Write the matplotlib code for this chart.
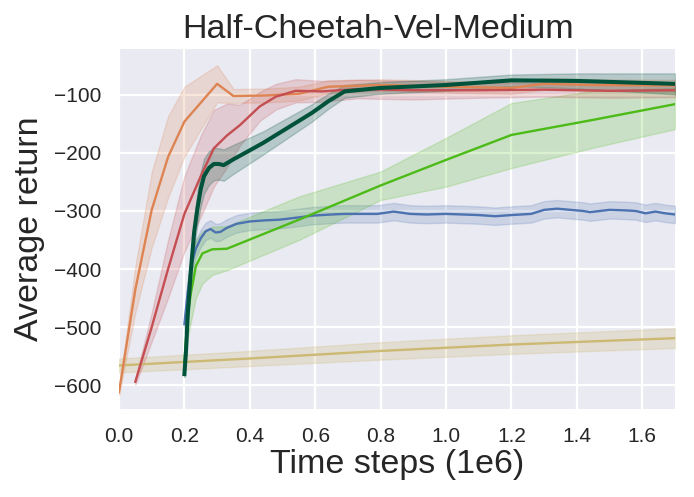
import numpy as np
import matplotlib
matplotlib.use("Agg")
import matplotlib.pyplot as plt

plt.rcParams['font.family'] = ['Liberation Sans', 'DejaVu Sans']

# ---- data (x in 1e6 time steps) ----
orange_x = [0.0, 0.05, 0.1, 0.15, 0.2, 0.3, 0.35, 0.45, 0.55, 0.64, 0.8, 1.0, 1.2, 1.3, 1.45, 1.7]
orange_y = [-612, -435, -298, -207, -146, -81, -102, -101, -98, -86, -83, -86, -88, -81, -83, -84]
orange_sd = [5, 40, 65, 70, 60, 32, 12, 12, 12, 11, 10, 10, 10, 10, 10, 10]

red_x = [0.05, 0.1, 0.15, 0.2, 0.25, 0.29, 0.33, 0.37, 0.43, 0.48, 0.54, 0.62, 0.73, 0.9, 1.1, 1.3, 1.5, 1.7]
red_y = [-594, -500, -400, -305, -240, -192, -170, -152, -120, -103, -93, -94, -90, -92, -92, -91, -93, -92]
red_sd = [5, 25, 50, 65, 70, 66, 55, 35, 25, 22, 20, 18, 16, 16, 13, 12, 12, 12]

dg_x = [0.2, 0.205, 0.21, 0.22, 0.23, 0.24, 0.25, 0.26, 0.275, 0.29, 0.305, 0.32, 0.35, 0.44, 0.59, 0.64,
        0.69, 0.8, 1.0, 1.2, 1.4, 1.7]
dg_y = [-581, -540, -480, -400, -335, -295, -262, -240, -226, -219, -219, -221, -211, -183, -131, -111,
        -94, -88, -83, -75, -76, -81]
dg_sd = [5, 10, 15, 20, 25, 28, 30, 30, 29, 28, 27, 27, 25, 20, 15, 13, 11, 10, 10, 10, 13, 18]

blue_x = [0.2, 0.21, 0.22, 0.235, 0.25, 0.265, 0.28, 0.295, 0.31, 0.33, 0.36, 0.4, 0.45, 0.49, 0.55, 0.59,
          0.65, 0.69, 0.75, 0.79, 0.84, 0.89, 0.94, 1.0, 1.05, 1.1, 1.15, 1.2, 1.26, 1.3, 1.34, 1.38,
          1.42, 1.44, 1.47, 1.5, 1.55, 1.58, 1.61, 1.64, 1.67, 1.7]
blue_y = [-495, -440, -395, -365, -347, -335, -331, -337, -336, -329, -322, -318, -316, -315, -311, -308,
          -306, -305, -305, -305, -301, -305, -306, -305, -306, -307, -309, -307, -305, -298, -296, -298,
          -300, -302, -300, -298, -299, -300, -304, -301, -304, -306]
blue_sd = 15

green_x = [0.2, 0.21, 0.22, 0.235, 0.255, 0.285, 0.33, 0.55, 0.8, 1.0, 1.2, 1.45, 1.7]
green_y = [-560, -480, -441, -395, -373, -366, -365, -315, -256, -212, -169, -143, -116]
green_hi = [-550, -420, -375, -350, -335, -327, -326, -275, -232, -174, -114, -93, -88]
green_lo = [-575, -520, -490, -450, -425, -410, -402, -350, -281, -258, -226, -191, -159]

tan_x = [0.0, 0.4, 0.8, 1.2, 1.7]
tan_y = [-566, -554, -541, -530, -519]
tan_sd = [12, 13, 15, 16, 17]

xticks = [0.0, 0.2, 0.4, 0.6, 0.8, 1.0, 1.2, 1.4, 1.6]
yticks = [-600, -500, -400, -300, -200, -100]

C_ORANGE = '#dd8452'
C_RED = '#c44e52'
C_BLUE = '#4c72b0'
C_GREEN = '#4cbb17'
C_DGREEN = '#00523a'
C_TAN = '#ccb974'

fig = plt.figure(figsize=(6.94, 4.97), dpi=100)
ax = fig.add_axes([119/694, 1-409/497, (675-119)/694, (409-49)/497])
ax.set_facecolor('#eaeaf2')
for s in ax.spines.values():
    s.set_visible(False)
ax.grid(True, color='white', linewidth=1.6)
ax.set_axisbelow(True)

def band(x, y, sd, color, alpha=0.2):
    x = np.asarray(x, float); y = np.asarray(y, float)
    sd = np.broadcast_to(np.asarray(sd, float), y.shape)
    ax.fill_between(x, y - sd, y + sd, color=color, alpha=alpha, linewidth=1)

band(tan_x, tan_y, tan_sd, C_TAN, 0.25)
ax.plot(tan_x, tan_y, color=C_TAN, lw=1.7)

band(blue_x, blue_y, blue_sd, C_BLUE)
ax.plot(blue_x, blue_y, color=C_BLUE, lw=1.7)

ax.fill_between(green_x, green_lo, green_hi, color=C_GREEN, alpha=0.2, linewidth=1)
ax.plot(green_x, green_y, color=C_GREEN, lw=1.7)

band(orange_x, orange_y, orange_sd, C_ORANGE)
ax.plot(orange_x, orange_y, color=C_ORANGE, lw=1.7)

band(red_x, red_y, red_sd, C_RED)
ax.plot(red_x, red_y, color=C_RED, lw=1.7)

band(dg_x, dg_y, dg_sd, C_DGREEN, 0.22)
ax.plot(dg_x, dg_y, color=C_DGREEN, lw=2.9)

ax.set_xlim(0, 1.7)
ax.set_ylim(-641, -21)
ax.set_xticks(xticks)
ax.set_yticks(yticks)
ax.tick_params(axis='both', length=0, labelsize=15, colors='#262626', pad=13)

ax.set_title('Half-Cheetah-Vel-Medium', fontsize=24.5, color='#262626', pad=8, x=0.466)
ax.set_xlabel('Time steps (1e6)', fontsize=24.5, color='#262626', labelpad=2)
ax.set_ylabel('Average return', fontsize=24.5, color='#262626', labelpad=6)

fig.savefig('out.png', dpi=100, facecolor='white')
